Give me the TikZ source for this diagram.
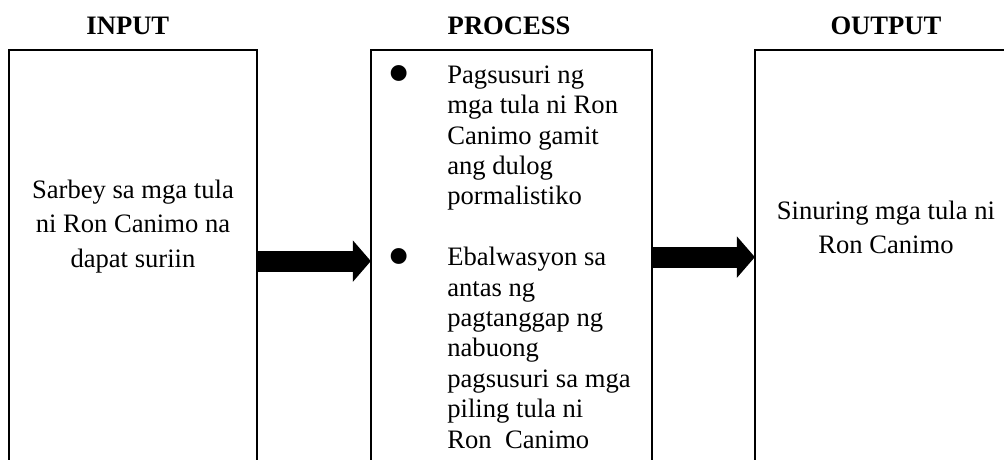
\documentclass[tikz,border=0pt]{standalone}
\usepackage{fontspec}
\setmainfont{Liberation Serif}
\usetikzlibrary{
  positioning,
  arrows.meta
}
\newcommand{\itemdot}{\llap{\makebox[43.3pt]{\smash{\raisebox{-5.6pt}{\fontsize{30}{30}\selectfont\textbullet}}}}}
\tikzset{
  x=0.451pt,
  y=-0.451pt,
  box/.style={draw, line width=0.8pt, minimum height=194pt, inner sep=0pt, outer sep=0pt},
  heading/.style={anchor=base, font=\fontsize{12}{14}\selectfont\bfseries},
  sidetext/.style={anchor=base, align=center, inner sep=0pt, font=\fontsize{12}{15.5}\selectfont},
  listtext/.style={anchor=base west, align=left, inner sep=0pt, font=\fontsize{12}{13.7}\selectfont},
  bigarrow/.style={line width=9.5pt, -{Triangle[length=8.1pt, width=18.2pt]}}
}

\begin{document}
\begin{tikzpicture}
    \useasboundingbox (0,0) rectangle (1004,459);

    \node[box, minimum width=111.8pt, anchor=north west] (input) at (9,50) {};
    \node[box, minimum width=126.7pt, right=51.4pt of input] (process) {};
    \node[box, minimum width=118.2pt, right=46.5pt of process] (output) {};

    \node[heading] (inputhead) at ([xshift=-2.3pt, yshift=6.8pt]input.north) {INPUT};
    \node[heading] (processhead) at ([xshift=-1pt, yshift=6.8pt]process.north) {PROCESS};
    \node[heading] (outputhead) at ([yshift=6.8pt]output.north) {OUTPUT};

    % base anchor sits on the last line
    \node[sidetext] (inputtext) at ([yshift=-97.9pt]input.north)
        {Sarbey sa mga tula\\ni Ron Canimo na\\dapat suriin};
    \node[listtext] (processtext) at ([xshift=34.3pt, yshift=-179.5pt]process.north west)
        {\itemdot Pagsusuri ng\\mga tula ni Ron\\Canimo gamit\\ang dulog\\pormalistiko\\[13.7pt]
         \itemdot Ebalwasyon sa\\antas ng\\pagtanggap ng\\nabuong\\pagsusuri sa mga\\piling tula ni\\Ron\ \ Canimo};
    \node[sidetext] (outputtext) at ([yshift=-92pt]output.north)
        {Sinuring mga tula ni\\Ron Canimo};

    \draw[bigarrow] ([yshift=1.8pt]input.east) -- ([yshift=1.8pt]process.west);
    \draw[bigarrow] ([yshift=3.6pt]process.east) -- ([yshift=3.6pt]output.west);
\end{tikzpicture}
\end{document}
